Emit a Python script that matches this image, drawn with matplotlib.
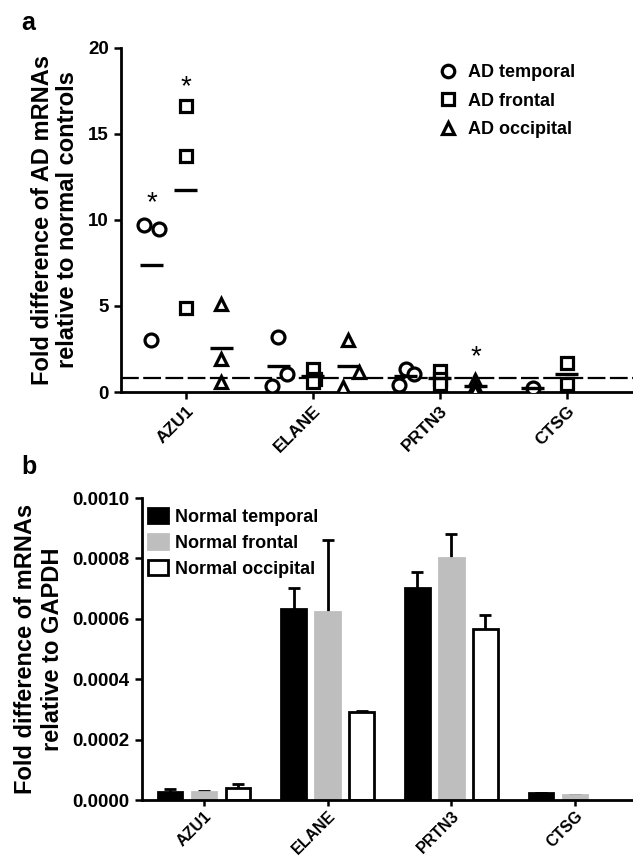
import matplotlib
matplotlib.use("Agg")
import matplotlib.pyplot as plt
import numpy as np
from matplotlib.lines import Line2D
from matplotlib.patches import Patch

plt.rcParams['font.family'] = ['Liberation Sans', 'DejaVu Sans']
plt.rcParams['font.weight'] = 'bold'

# ---------------- data ----------------
genes = ['AZU1', 'ELANE', 'PRTN3', 'CTSG']

# panel a: fold difference of AD vs normal controls (individual samples)
ad_temporal = [[9.7, 9.5, 3.0], [3.2, 0.35, 1.05], [1.35, 1.05, 0.4], [0.25]]
ad_frontal = [[16.6, 13.7, 4.9], [1.35, 0.78, 0.6], [1.2, 0.75, 0.45], [1.7, 0.45]]
ad_occipital = [[5.1, 1.9, 0.6], [3.0, 0.3, 1.15], [0.7, 0.35, 0.05], []]
reference_level = 0.82
# significance stars: (gene index, series index, y of star centre)
stars = [(0, 0, 11.3), (0, 1, 18.0), (2, 2, 2.3)]

# panel b: mRNA relative to GAPDH in normal brains (mean, upper SEM)
normal_temporal = [0.000027, 0.000633, 0.000702, 0.000023]
normal_temporal_err = [0.000009, 0.000070, 0.000053, 0.0]
normal_frontal = [0.000028, 0.000622, 0.000803, 0.000018]
normal_frontal_err = [0.000003, 0.000240, 0.000079, 0.0]
normal_occipital = [0.000041, 0.000290, 0.000567, np.nan]
normal_occipital_err = [0.000011, 0.000006, 0.000046, np.nan]

a_labels = ['AD temporal', 'AD frontal', 'AD occipital']
b_labels = ['Normal temporal', 'Normal frontal', 'Normal occipital']

# ---------------- styling / layout ----------------
markers = ['o', 's', '^']
group_offsets = [-0.27, 0.0, 0.28]
# horizontal spread of overlapping points (category units)
jitter = {
    (0, 0): [-0.06, 0.06, 0.0],
    (1, 0): [0.0, -0.05, 0.07],
    (1, 1): [0.0, 0.02, 0.0],
    (1, 2): [0.0, -0.04, 0.08],
    (2, 0): [0.0, 0.07, -0.05],
}
star_drop = 0.3  # text glyph '*' sits high in its box

fig = plt.figure(figsize=(6.33, 8.61), dpi=100)

# ---------- panel a ----------
axa = fig.add_axes([0.191, 0.5447, 0.809, 0.3996])
series_a = [ad_temporal, ad_frontal, ad_occipital]
for si, series in enumerate(series_a):
    for gi, vals in enumerate(series):
        if len(vals) == 0:
            continue
        xc = gi + group_offsets[si]
        jit = jitter.get((gi, si), [0.0] * len(vals))
        xs = [xc + j for j in jit]
        axa.plot(xs, vals, linestyle='none', marker=markers[si],
                 markersize=9.3, markerfacecolor='white',
                 markeredgecolor='black', markeredgewidth=2.3, zorder=3)
        m = float(np.mean(vals))
        axa.plot([xc - 0.09, xc + 0.09], [m, m], color='black', lw=2.4,
                 solid_capstyle='butt', zorder=4)

axa.axhline(reference_level, color='black', lw=1.6, linestyle=(0, (8, 2)), zorder=2)

for gi, si, y in stars:
    axa.text(gi + group_offsets[si], y - star_drop, '*', ha='center', va='center',
             fontsize=20, fontweight='normal')

axa.set_xlim(-0.51, 3.52)
axa.set_ylim(0, 20)
axa.set_yticks([0, 5, 10, 15, 20])
axa.set_xticks(range(len(genes)))
axa.set_xticklabels(genes, rotation=45, ha='right', va='top',
                    rotation_mode='anchor', fontsize=12.5, fontweight='bold')
axa.tick_params(axis='y', labelsize=13.5, width=1.8, length=5)
axa.tick_params(axis='x', width=1.8, length=5, pad=3)
for s in ['top', 'right']:
    axa.spines[s].set_visible(False)
for s in ['left', 'bottom']:
    axa.spines[s].set_linewidth(2)
axa.set_ylabel('Fold difference of AD mRNAs\nrelative to normal controls',
               fontsize=17, fontweight='bold', labelpad=7, linespacing=1.1)

handles_a = [Line2D([], [], linestyle='none', marker=markers[i], markersize=9,
                    markerfacecolor='white', markeredgecolor='black',
                    markeredgewidth=2.3) for i in range(3)]
axa.legend(handles_a, a_labels, loc='upper left', bbox_to_anchor=(0.59, 1.0),
           frameon=False, prop={'size': 13, 'weight': 'bold'},
           handlelength=1.0, handletextpad=0.6, labelspacing=0.63)

# ---------- panel b ----------
axb = fig.add_axes([0.2238, 0.0708, 0.7762, 0.3508])
x = np.arange(len(genes))
bw = 0.2
sp = 0.275
colors = ['black', '#bdbebd', 'white']
edges = ['black', '#bdbebd', 'black']
series_b = [normal_temporal, normal_frontal, normal_occipital]
errs_b = [normal_temporal_err, normal_frontal_err, normal_occipital_err]
for i in range(3):
    xs = x + (i - 1) * sp
    vals = np.array(series_b[i], dtype=float)
    err = np.array(errs_b[i], dtype=float)
    axb.bar(xs, vals, width=bw, color=colors[i], edgecolor=edges[i],
            linewidth=2, zorder=3, label=b_labels[i])
    axb.errorbar(xs, vals, yerr=err, fmt='none',
                 ecolor='black', elinewidth=2, capsize=4, capthick=2, zorder=2)

axb.set_xlim(-0.505, 3.47)
axb.set_ylim(0, 0.001)
axb.set_yticks([0, 0.0002, 0.0004, 0.0006, 0.0008, 0.001])
axb.set_yticklabels(['0.0000', '0.0002', '0.0004', '0.0006', '0.0008', '0.0010'])
axb.set_xticks(x)
axb.set_xticklabels(genes, rotation=45, ha='right', va='top',
                    rotation_mode='anchor', fontsize=11.5, fontweight='bold')
axb.tick_params(axis='y', labelsize=13.5, width=1.8, length=5)
axb.tick_params(axis='x', width=1.8, length=4, pad=2)
for s in ['top', 'right']:
    axb.spines[s].set_visible(False)
for s in ['left', 'bottom']:
    axb.spines[s].set_linewidth(2)
axb.spines['bottom'].set_zorder(4)
axb.set_ylabel('Fold difference of mRNAs\nrelative to GAPDH',
               fontsize=17, fontweight='bold', labelpad=6, linespacing=1.25)
handles_b = [Patch(facecolor=colors[i], edgecolor=edges[i], linewidth=2) for i in range(3)]
axb.legend(handles_b, b_labels, loc='upper left', bbox_to_anchor=(-0.02, 1.02),
           frameon=False, prop={'size': 13, 'weight': 'bold'},
           handlelength=1.1, handleheight=0.9, handletextpad=0.4, labelspacing=0.45)

fig.text(0.033, 0.973, 'a', fontsize=18, fontweight='bold', va='center')
fig.text(0.034, 0.458, 'b', fontsize=18, fontweight='bold', va='center')

fig.savefig('out.png', dpi=100)
